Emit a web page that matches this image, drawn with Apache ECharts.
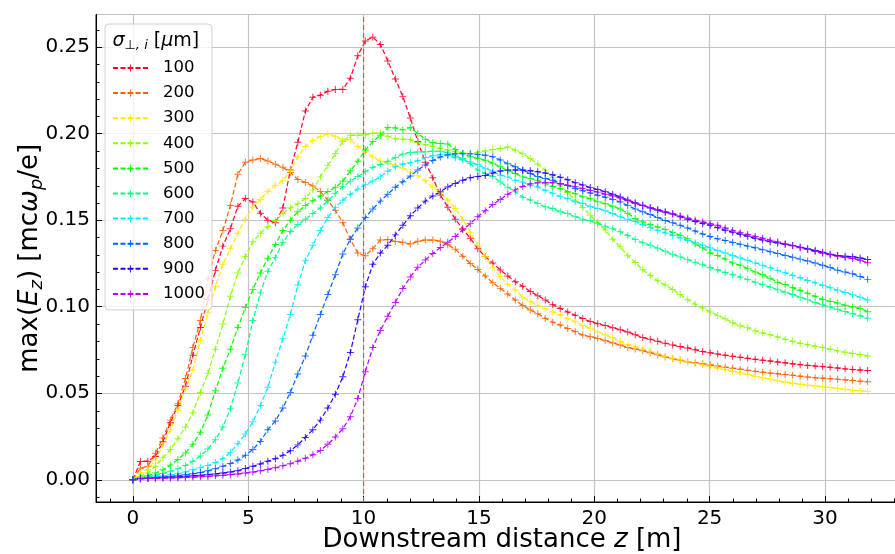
<!DOCTYPE html>
<html>
<head>
<meta charset="utf-8">
<script src="https://cdn.jsdelivr.net/npm/echarts@6/dist/echarts.min.js"></script>
<style>
  html, body { margin: 0; padding: 0; background: #ffffff; }
  #chart { width: 895px; height: 554px; }
</style>
</head>
<body>
<div id="chart"></div>
<script>
// Downstream positions z [m] of the saved diagnostics
const z = [0, 0.325, 0.65, 0.975, 1.3, 1.625, 1.95, 2.275, 2.6, 2.925, 3.25, 3.575, 3.9, 4.225, 4.55, 4.875, 5.2, 5.525, 5.85, 6.175,
  6.5, 6.825, 7.15, 7.475, 7.8, 8.125, 8.45, 8.775, 9.1, 9.425, 9.75, 10.075, 10.4, 10.725, 11.05, 11.375, 11.7, 12.025, 12.35, 12.675,
  13, 13.325, 13.65, 13.975, 14.3, 14.625, 14.95, 15.275, 15.6, 15.925, 16.25, 16.575, 16.9, 17.225, 17.55, 17.875, 18.2, 18.525, 18.85, 19.175,
  19.5, 19.825, 20.15, 20.475, 20.8, 21.125, 21.45, 21.775, 22.1, 22.425, 22.75, 23.075, 23.4, 23.725, 24.05, 24.375, 24.7, 25.025, 25.35, 25.675,
  26, 26.325, 26.65, 26.975, 27.3, 27.625, 27.95, 28.275, 28.6, 28.925, 29.25, 29.575, 29.9, 30.225, 30.55, 30.875, 31.2, 31.525, 31.85];

// Initial transverse beam sizes sigma_perp,i [um]
const sigmaLabels = ['100', '200', '300', '400', '500', '600', '700', '800', '900', '1000'];

// max(E_z) [m c omega_p / e] for each beam size
const sig100 = [0, 0.0106, 0.0108, 0.0135, 0.022, 0.033, 0.043, 0.054, 0.072, 0.088,
  0.104, 0.121, 0.135, 0.145, 0.158, 0.1625, 0.1605, 0.154, 0.150, 0.1485,
  0.157, 0.179, 0.195, 0.213, 0.221, 0.2222, 0.2245, 0.2255, 0.2255, 0.232,
  0.245, 0.2535, 0.2557, 0.2515, 0.242, 0.2315, 0.2215, 0.209, 0.1955, 0.1835,
  0.1745, 0.1645, 0.1575, 0.1505, 0.145, 0.1395, 0.1335, 0.129, 0.1252, 0.1212,
  0.1178, 0.1144, 0.1118, 0.1088, 0.1064, 0.1039, 0.1012, 0.099, 0.0969, 0.0951,
  0.0932, 0.0914, 0.0902, 0.0891, 0.0879, 0.0867, 0.0854, 0.0838, 0.0822, 0.0812,
  0.0801, 0.0789, 0.0779, 0.077, 0.0762, 0.0752, 0.0741, 0.0734, 0.0727, 0.072,
  0.0714, 0.0708, 0.0702, 0.0696, 0.0691, 0.0686, 0.0681, 0.0676, 0.067, 0.0665,
  0.0661, 0.0657, 0.0654, 0.065, 0.0646, 0.0641, 0.0637, 0.0634, 0.0631];

const sig200 = [0, 0.0067, 0.0078, 0.0154, 0.0242, 0.0345, 0.044, 0.0585, 0.0765, 0.092,
  0.116, 0.1325, 0.144, 0.1585, 0.1765, 0.1835, 0.1848, 0.1856, 0.1842, 0.1823,
  0.1805, 0.1775, 0.1735, 0.1718, 0.1698, 0.1665, 0.1615, 0.1557, 0.1485, 0.139,
  0.131, 0.1295, 0.1335, 0.1385, 0.1388, 0.1377, 0.1372, 0.1362, 0.1378, 0.1385,
  0.1385, 0.1378, 0.1358, 0.1332, 0.1292, 0.125, 0.1215, 0.1177, 0.1138, 0.1106,
  0.1074, 0.1039, 0.1007, 0.0981, 0.096, 0.0933, 0.0911, 0.0894, 0.0874, 0.0856,
  0.0836, 0.0827, 0.0817, 0.0804, 0.0791, 0.0779, 0.0765, 0.0756, 0.0746, 0.0734,
  0.0722, 0.071, 0.07, 0.0691, 0.0682, 0.0676, 0.067, 0.0664, 0.0658, 0.0651,
  0.0645, 0.0639, 0.0633, 0.0627, 0.0622, 0.0617, 0.0613, 0.0609, 0.0604, 0.0599,
  0.0594, 0.059, 0.0587, 0.0584, 0.0581, 0.0578, 0.0574, 0.057, 0.0567];

const sig300 = [0, 0.0039, 0.006, 0.0115, 0.02, 0.029, 0.04, 0.0525, 0.0635, 0.0805,
  0.0965, 0.1115, 0.1245, 0.1335, 0.1425, 0.1505, 0.1575, 0.162, 0.1665, 0.1702,
  0.1728, 0.1785, 0.1865, 0.1925, 0.196, 0.1984, 0.1998, 0.1985, 0.1962, 0.1966,
  0.1925, 0.1895, 0.1865, 0.1842, 0.1829, 0.1817, 0.18, 0.1778, 0.1757, 0.1728,
  0.169, 0.166, 0.1617, 0.1568, 0.1506, 0.1428, 0.1355, 0.129, 0.1228, 0.1173,
  0.113, 0.1096, 0.1055, 0.1029, 0.1008, 0.099, 0.0969, 0.0952, 0.0931, 0.0913,
  0.0892, 0.0875, 0.0854, 0.0837, 0.0821, 0.08, 0.078, 0.0768, 0.0755, 0.0742,
  0.0729, 0.0714, 0.0703, 0.0692, 0.0682, 0.0672, 0.0663, 0.0654, 0.0645, 0.0636,
  0.0626, 0.0617, 0.0608, 0.0599, 0.059, 0.0582, 0.0572, 0.0564, 0.0558, 0.0552,
  0.0547, 0.0542, 0.0538, 0.0533, 0.0528, 0.0523, 0.0518, 0.0514, 0.051];

const sig400 = [0, 0.002, 0.004, 0.0078, 0.0128, 0.0175, 0.0238, 0.0305, 0.0388, 0.0505,
  0.0615, 0.0755, 0.09, 0.106, 0.1195, 0.129, 0.1375, 0.1425, 0.1462, 0.1498,
  0.1537, 0.1572, 0.1595, 0.1625, 0.1675, 0.175, 0.1815, 0.1885, 0.1955, 0.199,
  0.199, 0.1993, 0.2002, 0.2003, 0.1985, 0.197, 0.1968, 0.1965, 0.1948, 0.1935,
  0.1926, 0.1916, 0.1905, 0.1895, 0.1886, 0.1885, 0.1893, 0.19, 0.1908, 0.1914,
  0.1922, 0.1904, 0.1883, 0.1856, 0.1824, 0.1789, 0.1745, 0.1702, 0.166, 0.1616,
  0.1573, 0.1529, 0.1486, 0.1443, 0.139, 0.1346, 0.1295, 0.1255, 0.1213, 0.118,
  0.115, 0.1125, 0.11, 0.107, 0.104, 0.1015, 0.0992, 0.097, 0.095, 0.093,
  0.0907, 0.089, 0.0878, 0.086, 0.0848, 0.0838, 0.0825, 0.0812, 0.08, 0.0789,
  0.078, 0.0772, 0.0764, 0.0754, 0.0745, 0.0737, 0.073, 0.0723, 0.0716];

const sig500 = [0, 0.0014, 0.0024, 0.0039, 0.0058, 0.0085, 0.0118, 0.0155, 0.0205, 0.0275,
  0.0375, 0.0515, 0.0645, 0.0755, 0.088, 0.0995, 0.11, 0.1195, 0.128, 0.136,
  0.144, 0.15, 0.1548, 0.1585, 0.1612, 0.164, 0.1665, 0.169, 0.1725, 0.1785,
  0.184, 0.1905, 0.1955, 0.199, 0.2035, 0.2033, 0.2022, 0.2035, 0.2, 0.1968,
  0.1948, 0.1943, 0.194, 0.1908, 0.1887, 0.1866, 0.1857, 0.1846, 0.1829, 0.1808,
  0.1787, 0.177, 0.175, 0.1741, 0.173, 0.1712, 0.1695, 0.1682, 0.1664, 0.1653,
  0.1635, 0.1624, 0.1606, 0.1595, 0.158, 0.1565, 0.154, 0.151, 0.149, 0.1475,
  0.146, 0.1446, 0.1428, 0.1412, 0.1393, 0.1362, 0.134, 0.131, 0.1296, 0.1275,
  0.1252, 0.124, 0.122, 0.12, 0.1185, 0.1165, 0.1142, 0.1128, 0.111, 0.1095,
  0.1078, 0.106, 0.1042, 0.103, 0.1022, 0.1008, 0.0998, 0.099, 0.0971];

const sig600 = [0, 0.001, 0.0017, 0.0026, 0.0036, 0.0049, 0.0064, 0.0083, 0.0107, 0.0138,
  0.0178, 0.0232, 0.0305, 0.041, 0.056, 0.0725, 0.092, 0.108, 0.1205, 0.1285,
  0.1372, 0.1435, 0.1475, 0.1505, 0.1538, 0.157, 0.1612, 0.1655, 0.1693, 0.1725,
  0.1752, 0.178, 0.1805, 0.1822, 0.184, 0.1862, 0.1882, 0.1891, 0.1894, 0.1895,
  0.1898, 0.1898, 0.189, 0.187, 0.1856, 0.1826, 0.179, 0.177, 0.1752, 0.1721,
  0.169, 0.1664, 0.1633, 0.1616, 0.1596, 0.1577, 0.1567, 0.1548, 0.1538, 0.152,
  0.1505, 0.1496, 0.148, 0.1465, 0.145, 0.1433, 0.1412, 0.1388, 0.137, 0.1355,
  0.1338, 0.132, 0.1303, 0.1288, 0.1272, 0.1257, 0.1242, 0.1227, 0.1213, 0.1198,
  0.1185, 0.1171, 0.1157, 0.1142, 0.1127, 0.1113, 0.1098, 0.1084, 0.107, 0.1055,
  0.1041, 0.1025, 0.1011, 0.0998, 0.0985, 0.0972, 0.096, 0.0948, 0.0933];

const sig700 = [0, 0.0008, 0.0012, 0.0017, 0.0022, 0.0028, 0.0035, 0.0045, 0.0058, 0.007,
  0.0083, 0.01, 0.0122, 0.016, 0.0208, 0.0265, 0.0335, 0.043, 0.0535, 0.068,
  0.0815, 0.0955, 0.1125, 0.1265, 0.1355, 0.144, 0.1515, 0.1575, 0.1615, 0.165,
  0.168, 0.1705, 0.1726, 0.175, 0.1782, 0.1808, 0.1825, 0.183, 0.1843, 0.1862,
  0.1872, 0.1878, 0.1872, 0.186, 0.1847, 0.1836, 0.182, 0.18, 0.1782, 0.176,
  0.175, 0.1731, 0.172, 0.1702, 0.1692, 0.1673, 0.1655, 0.1636, 0.1624, 0.1606,
  0.1596, 0.1578, 0.1567, 0.1554, 0.1538, 0.152, 0.1505, 0.1492, 0.1475, 0.1458,
  0.1441, 0.1426, 0.1412, 0.1397, 0.1383, 0.1369, 0.1355, 0.134, 0.1325, 0.131,
  0.1296, 0.1282, 0.1268, 0.1253, 0.1239, 0.1225, 0.121, 0.1196, 0.1181, 0.1167,
  0.1152, 0.1138, 0.1124, 0.111, 0.1095, 0.1082, 0.1069, 0.1055, 0.1039];

const sig800 = [0, 0.0008, 0.0011, 0.0014, 0.0017, 0.002, 0.0024, 0.0029, 0.0035, 0.0042,
  0.0052, 0.0064, 0.0078, 0.0094, 0.0114, 0.0142, 0.0175, 0.0222, 0.029, 0.034,
  0.0415, 0.0505, 0.0612, 0.0715, 0.0835, 0.0955, 0.107, 0.1185, 0.1305, 0.139,
  0.1455, 0.1515, 0.1565, 0.161, 0.165, 0.169, 0.1722, 0.1755, 0.179, 0.1818,
  0.1845, 0.1865, 0.1878, 0.1883, 0.1884, 0.1884, 0.188, 0.1875, 0.1866, 0.1848,
  0.1826, 0.1808, 0.1789, 0.177, 0.1752, 0.1741, 0.173, 0.1712, 0.17, 0.1683,
  0.167, 0.1657, 0.1644, 0.1632, 0.1619, 0.1605, 0.1584, 0.1565, 0.1548, 0.1533,
  0.1515, 0.1498, 0.1485, 0.147, 0.1455, 0.1437, 0.142, 0.1405, 0.1392, 0.1382,
  0.1371, 0.1361, 0.135, 0.134, 0.1329, 0.1318, 0.1307, 0.1296, 0.1286, 0.1275,
  0.1264, 0.1252, 0.124, 0.1226, 0.1211, 0.12, 0.119, 0.1175, 0.1158];

const sig900 = [0, 0.0007, 0.0009, 0.0011, 0.0013, 0.0015, 0.0017, 0.002, 0.0023, 0.0026,
  0.003, 0.0034, 0.0039, 0.0045, 0.0053, 0.0065, 0.0078, 0.0092, 0.0108, 0.0122,
  0.0142, 0.0168, 0.0202, 0.0245, 0.029, 0.0345, 0.0415, 0.0495, 0.0595, 0.0735,
  0.0925, 0.1115, 0.1245, 0.131, 0.1355, 0.1415, 0.147, 0.1525, 0.157, 0.161,
  0.164, 0.1664, 0.1692, 0.1712, 0.173, 0.1745, 0.1752, 0.1758, 0.1772, 0.1784,
  0.1789, 0.179, 0.1789, 0.1786, 0.178, 0.1772, 0.1762, 0.1748, 0.1733, 0.1716,
  0.1703, 0.1688, 0.1677, 0.1664, 0.165, 0.1634, 0.1617, 0.16, 0.1586, 0.157,
  0.1557, 0.1546, 0.1535, 0.152, 0.1505, 0.1492, 0.148, 0.147, 0.1456, 0.1442,
  0.143, 0.1418, 0.1407, 0.1395, 0.1385, 0.1375, 0.1368, 0.1361, 0.1353, 0.1344,
  0.1335, 0.1325, 0.1315, 0.1303, 0.1296, 0.1292, 0.1289, 0.1282, 0.1273];

const sig1000 = [0, 0.0006, 0.0008, 0.0009, 0.001, 0.0011, 0.0012, 0.0014, 0.0016, 0.0018,
  0.002, 0.0023, 0.0026, 0.003, 0.0034, 0.0039, 0.0045, 0.0052, 0.006, 0.007,
  0.0081, 0.0093, 0.0108, 0.0125, 0.0145, 0.017, 0.0205, 0.0248, 0.0295, 0.0365,
  0.047, 0.0625, 0.0765, 0.0862, 0.0945, 0.1025, 0.1105, 0.1172, 0.1228, 0.127,
  0.1308, 0.1342, 0.1372, 0.1405, 0.1445, 0.148, 0.152, 0.1555, 0.159, 0.162,
  0.165, 0.1675, 0.1695, 0.171, 0.1716, 0.1718, 0.1716, 0.171, 0.1702, 0.1693,
  0.1682, 0.1672, 0.1662, 0.165, 0.164, 0.1628, 0.1612, 0.1596, 0.1584, 0.1573,
  0.1561, 0.1549, 0.1537, 0.1524, 0.1512, 0.15, 0.149, 0.148, 0.147, 0.1455,
  0.1441, 0.1428, 0.1417, 0.1406, 0.1395, 0.1384, 0.1374, 0.1363, 0.1352, 0.1341,
  0.133, 0.1319, 0.1309, 0.13, 0.1292, 0.1285, 0.1279, 0.1268, 0.1254];

// Axis ranges
const xRange = [-1.6, 33.6];
const yRange = [-0.0128, 0.2688];

// Position of the marked plane [m]
const markedZ = 10;

// Minor tick positions
const xMinorTicks = [-1, 1, 2, 3, 4, 6, 7, 8, 9, 11, 12, 13, 14, 16, 17, 18, 19, 21, 22, 23, 24, 26, 27, 28, 29, 31, 32, 33];
const yMinorTicks = [-0.01, 0.01, 0.02, 0.03, 0.04, 0.06, 0.07, 0.08, 0.09, 0.11, 0.12, 0.13, 0.14,
  0.16, 0.17, 0.18, 0.19, 0.21, 0.22, 0.23, 0.24, 0.26];

const values = [sig100, sig200, sig300, sig400, sig500, sig600, sig700, sig800, sig900, sig1000];
const colors = ['#ff0029', '#ff6000', '#ffea00', '#8aff00', '#00ff00', '#00ff89', '#00ebff', '#0061ff', '#2900ff', '#b400ff'];

const FONT = 'DejaVu Sans';
const PLUS = 'path://M4.3,0H5.7V4.3H10V5.7H5.7V10H4.3V5.7H0V4.3H4.3Z';

const chart = echarts.init(document.getElementById('chart'), null, { renderer: 'canvas' });

const series = values.map((vals, k) => ({
  name: sigmaLabels[k],
  type: 'line',
  data: z.map((x, i) => [x, vals[i]]),
  symbol: PLUS,
  symbolSize: 7,
  showAllSymbol: true,
  lineStyle: { color: colors[k], width: 1.2, type: [5, 2.5] },
  itemStyle: { color: colors[k], opacity: 0.85, borderWidth: 0 },
  emphasis: { disabled: true },
  silent: true,
  z: 3
}));

// Vertical dashed line at the marked plane, spanning the full y range
series.push({
  name: 'marked plane',
  type: 'line',
  data: [[markedZ, yRange[0]], [markedZ, yRange[1]]],
  symbol: 'none',
  lineStyle: { color: '#e8484e', width: 1.1, type: [5, 3] },
  emphasis: { disabled: true },
  silent: true,
  z: 4
});

const axisNameStyle = {
  fontFamily: FONT, fontSize: 26, color: '#000',
  rich: {
    n: { fontFamily: FONT, fontSize: 26, lineHeight: 32, color: '#000' },
    it: { fontFamily: FONT, fontSize: 26, fontStyle: 'italic', lineHeight: 32, color: '#000' },
    sub: { fontFamily: FONT, fontSize: 18, fontStyle: 'italic', lineHeight: 18, verticalAlign: 'bottom', color: '#000' }
  }
};

const option = {
  animation: false,
  backgroundColor: '#ffffff',
  textStyle: { fontFamily: FONT },
  grid: {
    left: 96, right: -13, top: 14.5, bottom: 52,
    outerBoundsMode: 'none',
    containLabel: false,
    show: true, borderColor: '#000', borderWidth: 1, backgroundColor: 'transparent'
  },
  xAxis: {
    type: 'value',
    min: xRange[0], max: xRange[1], splitNumber: 7,
    axisLine: { show: true, onZero: false, lineStyle: { color: '#000', width: 1 } },
    axisTick: { show: true, inside: true, length: 6, lineStyle: { color: '#000', width: 1 } },
    axisLabel: { fontFamily: FONT, fontSize: 20, color: '#000', margin: 7, showMinLabel: false, showMaxLabel: false },
    splitLine: { show: true, lineStyle: { color: '#c4c4c4', width: 1.2 } },
    name: '{n|Downstream distance }{it|z}{n| [m]}',
    nameLocation: 'middle',
    nameGap: 22,
    nameMoveOverlap: false,
    nameTextStyle: axisNameStyle
  },
  yAxis: {
    type: 'value',
    min: yRange[0], max: yRange[1], splitNumber: 5,
    axisLine: { show: true, onZero: false, lineStyle: { color: '#000', width: 1 } },
    axisTick: { show: true, inside: true, length: 6, lineStyle: { color: '#000', width: 1 } },
    axisLabel: {
      fontFamily: FONT, fontSize: 20, color: '#000', margin: 6,
      showMinLabel: false, showMaxLabel: false,
      formatter: v => v.toFixed(2)
    },
    splitLine: { show: true, lineStyle: { color: '#c4c4c4', width: 1.2 } },
    name: '{n|max(}{it|E}{sub|z}{n|) [mc}{it|ω}{sub|p}{n|/e]}',
    nameLocation: 'middle',
    nameRotate: 90,
    nameGap: 50,
    nameMoveOverlap: false,
    nameTextStyle: axisNameStyle
  },
  legend: {
    orient: 'vertical',
    left: 105, top: 24,
    padding: [34, 7, 6, 7],
    itemWidth: 35, itemHeight: 9, itemGap: 5.1,
    selectedMode: false,
    backgroundColor: 'rgba(255,255,255,0.8)',
    borderColor: '#d0d0d0', borderWidth: 1, borderRadius: 4,
    textStyle: { fontFamily: FONT, fontSize: 16.5, color: '#000', lineHeight: 20, padding: [0, 0, 0, 10] },
    data: sigmaLabels
  },
  series: series
};

chart.setOption(option);

// Legend title and minor ticks placed through the axis scales
function buildOverlay() {
  const g = [];
  g.push({
    type: 'text', z: 100, silent: true,
    style: {
      x: 112.5, y: 41, verticalAlign: 'middle',
      text: '{it|σ}{sub|⊥, i}{n| [}{it|μ}{n|m]}',
      rich: {
        n: { fontFamily: FONT, fontSize: 19, lineHeight: 22, fill: '#000' },
        it: { fontFamily: FONT, fontSize: 19, fontStyle: 'italic', lineHeight: 22, fill: '#000' },
        sub: { fontFamily: FONT, fontSize: 13, fontStyle: 'italic', lineHeight: 13, verticalAlign: 'bottom', fill: '#000' }
      }
    }
  });
  const yBottom = chart.convertToPixel({ yAxisIndex: 0 }, yRange[0]);
  const xLeft = chart.convertToPixel({ xAxisIndex: 0 }, xRange[0]);
  xMinorTicks.forEach(v => {
    const px = Math.round(chart.convertToPixel({ xAxisIndex: 0 }, v)) + 0.5;
    g.push({ type: 'line', z: 50, silent: true, shape: { x1: px, y1: yBottom, x2: px, y2: yBottom - 3.5 }, style: { stroke: '#000', lineWidth: 1 } });
  });
  yMinorTicks.forEach(v => {
    const py = Math.round(chart.convertToPixel({ yAxisIndex: 0 }, v)) + 0.5;
    g.push({ type: 'line', z: 50, silent: true, shape: { x1: xLeft, y1: py, x2: xLeft + 3.5, y2: py }, style: { stroke: '#000', lineWidth: 1 } });
  });
  chart.setOption({ graphic: g });
}
buildOverlay();
</script>
</body>
</html>
